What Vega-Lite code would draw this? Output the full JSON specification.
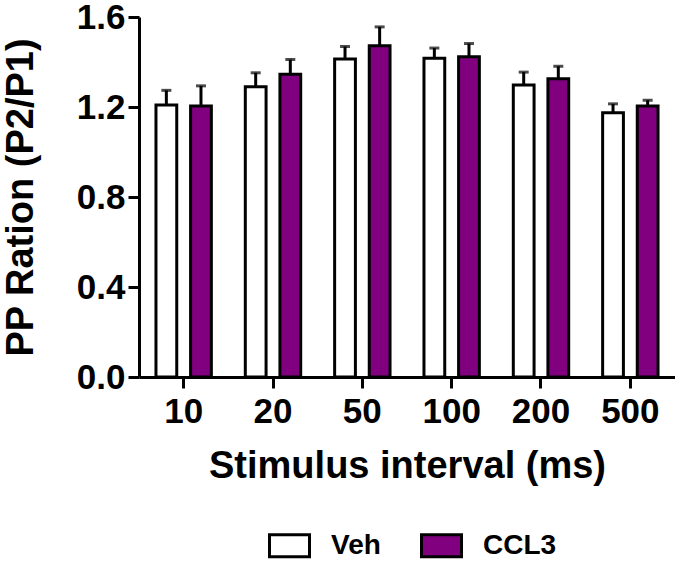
{
  "$schema": "https://vega.github.io/schema/vega-lite/v6.json",
  "autosize": "none",
  "padding": {"left": 139, "top": 17, "right": 0, "bottom": 184},
  "width": 536,
  "height": 360,
  "background": "white",
  "config": {
    "view": {"stroke": null},
    "font": "Liberation Sans",
    "axis": {
      "domainColor": "black", "domainWidth": 3, "tickColor": "black", "tickWidth": 3, "tickSize": 11,
      "labelColor": "black", "labelFont": "Liberation Sans", "labelFontWeight": "bold", "labelFontSize": 35,
      "titleColor": "black", "titleFont": "Liberation Sans", "titleFontWeight": "bold", "titleFontSize": 38,
      "grid": false
    },
    "legend": {
      "labelFont": "Liberation Sans", "labelFontWeight": "bold", "labelFontSize": 28, "labelColor": "black"
    }
  },
  "data": {
    "values": [
      {"interval": "10", "group": "Veh", "mean": 1.209, "hi": 1.274},
      {"interval": "10", "group": "CCL3", "mean": 1.204, "hi": 1.294},
      {"interval": "20", "group": "Veh", "mean": 1.290, "hi": 1.352},
      {"interval": "20", "group": "CCL3", "mean": 1.346, "hi": 1.411},
      {"interval": "50", "group": "Veh", "mean": 1.413, "hi": 1.469},
      {"interval": "50", "group": "CCL3", "mean": 1.472, "hi": 1.556},
      {"interval": "100", "group": "Veh", "mean": 1.417, "hi": 1.462},
      {"interval": "100", "group": "CCL3", "mean": 1.423, "hi": 1.482},
      {"interval": "200", "group": "Veh", "mean": 1.298, "hi": 1.355},
      {"interval": "200", "group": "CCL3", "mean": 1.326, "hi": 1.381},
      {"interval": "500", "group": "Veh", "mean": 1.174, "hi": 1.214},
      {"interval": "500", "group": "CCL3", "mean": 1.204, "hi": 1.230}
    ]
  },
  "encoding": {
    "x": {
      "field": "interval", "type": "nominal",
      "sort": ["10", "20", "50", "100", "200", "500"],
      "scale": {"paddingInner": 0.38, "paddingOuter": 0.19},
      "axis": {"labelAngle": 0, "labelPadding": 6, "title": "Stimulus interval (ms)", "titlePadding": 18}
    },
    "xOffset": {
      "field": "group", "type": "nominal", "sort": ["Veh", "CCL3"],
      "scale": {"paddingInner": 0.4, "paddingOuter": 0}
    }
  },
  "layer": [
    {
      "mark": {"type": "rule", "stroke": "black", "strokeWidth": 3},
      "encoding": {
        "y": {"field": "mean", "type": "quantitative"},
        "y2": {"field": "hi"}
      }
    },
    {
      "mark": {"type": "tick", "color": "black", "size": 10, "thickness": 3, "orient": "horizontal"},
      "encoding": {
        "y": {"field": "hi", "type": "quantitative"}
      }
    },
    {
      "mark": {"type": "bar", "stroke": "black", "strokeWidth": 3},
      "encoding": {
        "y": {
          "field": "mean", "type": "quantitative",
          "scale": {"domain": [0, 1.6], "nice": false},
          "axis": {"values": [0, 0.4, 0.8, 1.2, 1.6], "format": ".1f", "labelPadding": 3,
                   "title": "PP Ration (P2/P1)", "titlePadding": 36}
        },
        "color": {
          "field": "group", "type": "nominal",
          "scale": {"domain": ["Veh", "CCL3"], "range": ["white", "#800080"]},
          "legend": {
            "title": null, "orient": "none", "direction": "horizontal",
            "legendX": 129, "legendY": 507,
            "symbolType": "M-1,-0.55H1V0.55H-1Z", "symbolSize": 1600,
            "symbolStrokeColor": "black", "symbolStrokeWidth": 3, "symbolOpacity": 1,
            "labelOffset": 20, "columnPadding": 34
          }
        }
      }
    }
  ]
}
